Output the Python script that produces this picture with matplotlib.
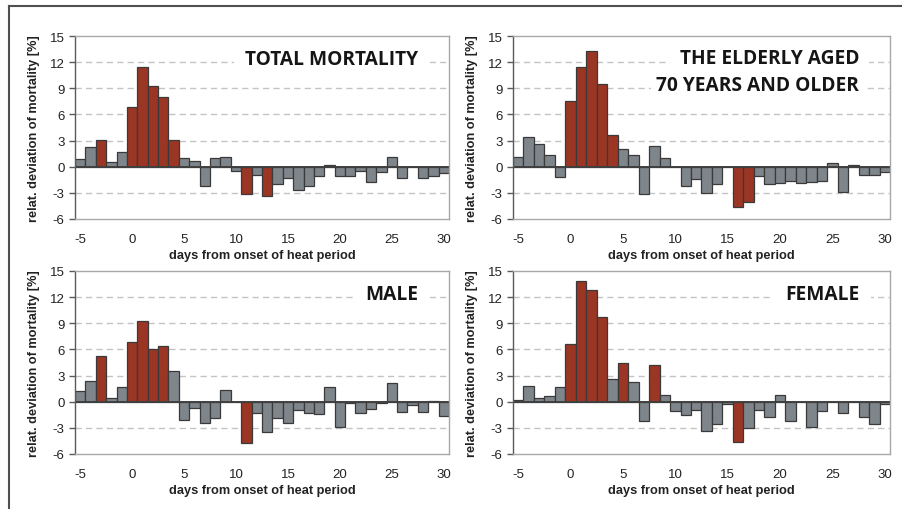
"""
plot.py - relative deviation of mortality around heat periods (4 panels).
"""

import matplotlib
matplotlib.use("Agg")
import matplotlib.pyplot as plt
from matplotlib import font_manager
from matplotlib.lines import Line2D


# ── Data ──────────────────────────────────────────────────────────────────────

days = list(range(-5, 31))

total = [0.9, 2.25, 3.1, 0.55, 1.7, 6.9, 11.45, 9.3, 8.05, 3.1, 1.05, 0.7,
         -2.25, 1.05, 1.15, -0.5, -3.15, -1.0, -3.4, -2.0, -1.3, -2.7, -2.2,
         -1.05, 0.15, -1.1, -1.05, -0.5, -1.75, -0.55, 1.15, -1.25, 0.0, -1.3,
         -1.05, -0.75]
total_heat_days = [-3, 0, 1, 2, 3, 4, 11, 13]

elderly = [1.1, 3.45, 2.6, 1.35, -1.15, 7.5, 11.45, 13.25, 9.5, 3.65, 2.05,
           1.3, -3.15, 2.35, 1.05, 0.0, -2.2, -1.4, -3.0, -2.0, 0.0, -4.6,
           -4.1, -1.1, -1.95, -1.9, -1.65, -1.9, -1.75, -1.6, 0.4, -2.95, 0.25,
           -1.0, -1.0, -0.6]
elderly_heat_days = [0, 1, 2, 3, 4, 16, 17]

male = [1.2, 2.35, 5.3, 0.45, 1.65, 6.9, 9.3, 6.1, 6.35, 3.5, -2.15, -0.75,
        -2.45, -1.85, 1.4, 0.0, -4.75, -1.35, -3.5, -1.9, -2.45, -1.0, -1.35,
        -1.4, 1.7, -2.9, -0.1, -1.35, -0.8, -0.2, 2.1, -1.2, -0.4, -1.2, 0.1,
        -1.6]
male_heat_days = [-3, 0, 1, 2, 3, 11]

female = [0.25, 1.8, 0.45, 0.65, 1.65, 6.65, 13.85, 12.85, 9.75, 2.55, 4.5,
          2.3, -2.2, 4.2, 0.8, -1.05, -1.5, -1.0, -3.4, -2.5, -0.3, -4.6, -3.0,
          -1.0, -1.75, 0.8, -2.25, 0.0, -2.9, -1.1, 0.0, -1.35, 0.0, -1.75,
          -2.5, -0.3]
female_heat_days = [0, 1, 2, 3, 5, 8, 16]

titles = [
    ["TOTAL MORTALITY"],
    ["THE ELDERLY AGED", "70 YEARS AND OLDER"],
    ["MALE"],
    ["FEMALE"],
]

y_ticks = [-6, -3, 0, 3, 6, 9, 12, 15]
x_ticks = [-5, 0, 5, 10, 15, 20, 25, 30]
y_label = "relat. deviation of mortality [%]"
x_label = "days from onset of heat period"


# ── Style ─────────────────────────────────────────────────────────────────────

RED = "#9b3524"
GREY = "#7e858b"
EDGE = "#3a3a3a"

plt.rcParams["axes.unicode_minus"] = False

names = {f.name for f in font_manager.fontManager.ttflist}
if "Liberation Sans Narrow" in names:
    AX_FONT, TICK_SIZE, LABEL_SIZE = "Liberation Sans Narrow", 10.5, 11
else:
    AX_FONT, TICK_SIZE, LABEL_SIZE = "Liberation Sans", 9.5, 9.2

W, H = 903, 510
# axes boxes in pixels: left, top, right, bottom
boxes = [(75, 37, 449, 220), (513, 37, 890, 220),
         (75, 272, 449, 455), (513, 272, 890, 455)]


def draw_panel(ax, values, heat_days, title_lines):
    colors = [RED if d in heat_days else GREY for d in days]
    ax.bar(days, values, width=1.0, color=colors, edgecolor=EDGE,
           linewidth=0.9, zorder=3)
    ax.axhline(0, color="#404040", linewidth=1.4, zorder=4)

    ax.set_xlim(-5.5, 30.5)
    ax.set_ylim(-6, 15)
    ax.set_yticks(y_ticks)
    ax.set_xticks(x_ticks)
    for y in [-3, 3, 6, 9, 12]:
        ax.axhline(y, color="#c4c4c4", linewidth=1.0,
                   linestyle=(0, (4.5, 3)), zorder=1)

    for side in ["top", "right", "bottom"]:
        ax.spines[side].set_color("#a8a8a8")
    ax.spines["left"].set_color("#5a5a5a")
    for s in ax.spines.values():
        s.set_linewidth(1.0)
        s.set_zorder(6)

    ax.tick_params(axis="y", direction="out", length=4.5, width=1.0,
                   color="#5a5a5a", pad=3, labelsize=TICK_SIZE,
                   labelcolor="#222222")
    ax.tick_params(axis="x", length=0, pad=10, labelsize=TICK_SIZE,
                   labelcolor="#222222")
    for lab in ax.get_xticklabels() + ax.get_yticklabels():
        lab.set_fontfamily(AX_FONT)

    ax.set_ylabel(y_label, fontsize=LABEL_SIZE, fontweight="bold",
                  family=AX_FONT, color="#222222")
    ax.set_xlabel(x_label, fontsize=LABEL_SIZE, fontweight="bold",
                  family=AX_FONT, color="#222222")
    ax.yaxis.set_label_coords(-0.094, 0.5)
    ax.xaxis.set_label_coords(0.5, -0.162)

    # title text, right aligned, white box hides the grid behind it
    if len(title_lines) == 1:
        ys, pads = [0.875], [0.6]
    else:
        ys, pads = [0.878, 0.73], [0.5, 0.25]
    for line, y, pad in zip(title_lines, ys, pads):
        ax.text(0.918, y, line, transform=ax.transAxes, ha="right",
                va="center", fontsize=13.8, fontweight="bold",
                family="Open Sans", color="#151515", zorder=5,
                bbox=dict(boxstyle=f"square,pad={pad}", facecolor="white",
                          edgecolor="none"))


fig = plt.figure(figsize=(W / 100, H / 100), dpi=100)

series = [(total, total_heat_days), (elderly, elderly_heat_days),
          (male, male_heat_days), (female, female_heat_days)]
for (l, t, r, b), (vals, heat), title in zip(boxes, series, titles):
    ax = fig.add_axes([l / W, 1 - b / H, (r - l) / W, (b - t) / H])
    draw_panel(ax, vals, heat, title)

# outer frame: top and left only
fig.add_artist(Line2D([9 / W, 1.0], [1 - 7 / H, 1 - 7 / H],
                      transform=fig.transFigure, color="#505050", lw=1.5))
fig.add_artist(Line2D([9 / W, 9 / W], [0.0, 1 - 7 / H],
                      transform=fig.transFigure, color="#505050", lw=1.5))

fig.savefig("out.png", dpi=100)
